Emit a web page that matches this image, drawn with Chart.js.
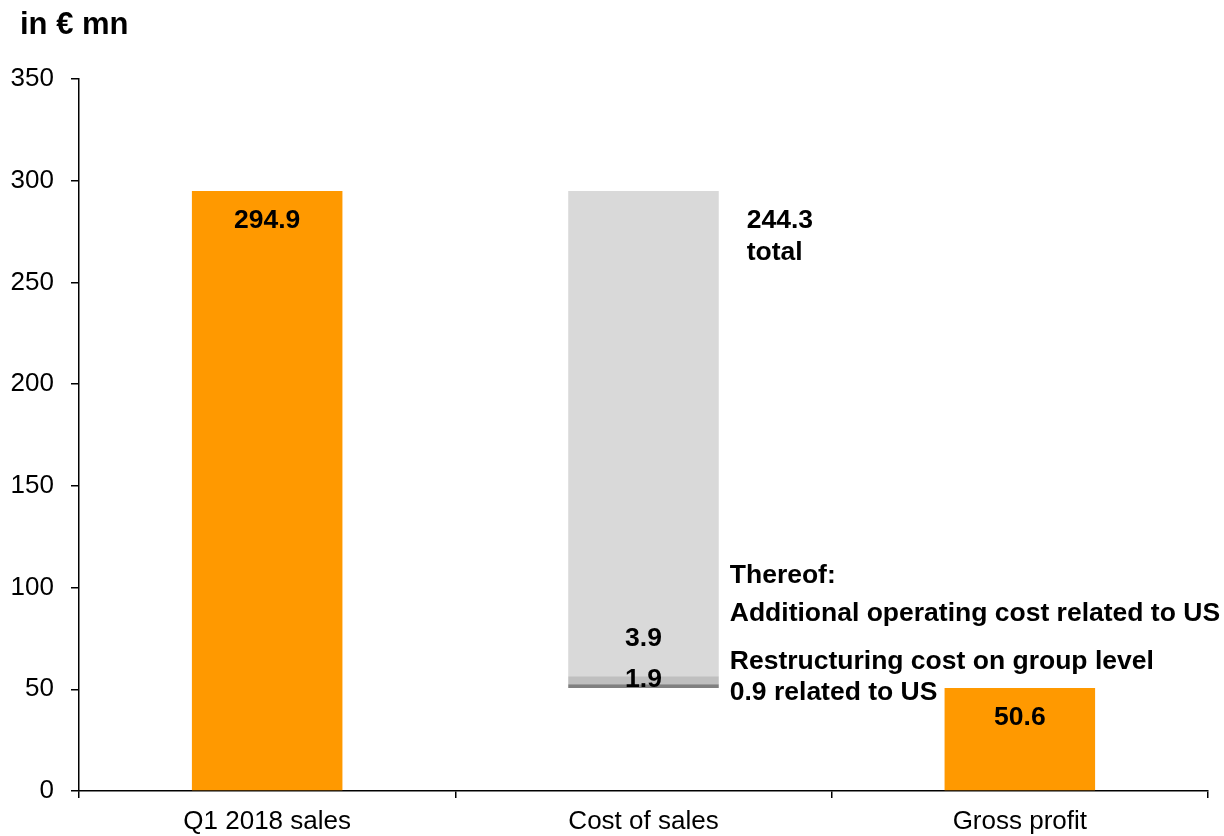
<!DOCTYPE html>
<html>
<head>
<meta charset="utf-8">
<script src="https://cdn.jsdelivr.net/npm/chart.js@4"></script>
<style>
  html, body { margin: 0; padding: 0; background: #fff; }
  #wrap { width: 1224px; height: 836px; position: relative; }
</style>
</head>
<body>
<div id="wrap"><canvas id="bridge"></canvas></div>
<script>
const categories = ['Q1 2018 sales', 'Cost of sales', 'Gross profit'];
const salesValues = [294.9, null, 50.6];
const costTotal = 244.3;
const restructuringCost = 1.9;
const additionalUsCost = 3.9;
const yTicks = [0, 50, 100, 150, 200, 250, 300, 350];

const FONT = "'Liberation Sans', Arial, sans-serif";
const ORANGE = '#FF9900';

// cost of sales bar floats between gross profit and sales, split into parts from the bottom up
const base = salesValues[2];
const restTop = base + restructuringCost;
const addTop = restTop + additionalUsCost;
const costTop = base + costTotal;

const labelsPlugin = {
    id: 'labels',
    afterDraw(chart) {
        const ctx = chart.ctx;
        const y = chart.scales.y;
        const bars = chart.getDatasetMeta(0).data;
        const cost = chart.getDatasetMeta(3).data[1];
        ctx.save();
        ctx.fillStyle = '#000';
        ctx.textBaseline = 'middle';

        // unit label
        ctx.font = 'bold 31px ' + FONT;
        ctx.textAlign = 'left';
        ctx.fillText('in € mn', 20, 25);

        // values inside the orange bars
        ctx.font = 'bold 26.5px ' + FONT;
        ctx.textAlign = 'center';
        [0, 2].forEach(i => {
            ctx.fillText(salesValues[i].toFixed(1), bars[i].x, bars[i].y + 30);
        });

        // cost of sales parts
        const cx = cost.x;
        const basePx = y.getPixelForValue(base);
        ctx.fillText(additionalUsCost.toFixed(1), cx, basePx - 49);
        ctx.fillText(restructuringCost.toFixed(1), cx, basePx - 8);

        const right = cost.x + cost.width / 2;
        const topPx = y.getPixelForValue(costTop);
        ctx.textAlign = 'left';
        ctx.fillText(costTotal.toFixed(1), right + 28, topPx + 30);
        ctx.fillText('total', right + 28, topPx + 62);

        ctx.fillText('Thereof:', right + 11, basePx - 112);
        ctx.fillText('Additional operating cost related to US', right + 11, basePx - 74);
        ctx.fillText('Restructuring cost on group level', right + 11, basePx - 26);
        ctx.fillText('0.9 related to US', right + 11, basePx + 5);
        ctx.restore();
    }
};

new Chart(document.getElementById('bridge'), {
    type: 'bar',
    data: {
        labels: categories,
        datasets: [
            { data: salesValues, backgroundColor: ORANGE },
            { data: [null, [base, restTop], null], backgroundColor: '#808080' },
            { data: [null, [restTop, addTop], null], backgroundColor: '#BFBFBF' },
            { data: [null, [addTop, costTop], null], backgroundColor: '#D9D9D9' }
        ]
    },
    options: {
        responsive: true,
        maintainAspectRatio: false,
        animation: false,
        datasets: {
            bar: {
                grouped: false,
                barPercentage: 0.4,
                categoryPercentage: 1.0,
                borderWidth: 0
            }
        },
        layout: {
            padding: { top: 79, right: 16, bottom: 0, left: 0 }
        },
        plugins: {
            legend: { display: false },
            tooltip: { enabled: false }
        },
        scales: {
            x: {
                offset: true,
                grid: {
                    offset: true,
                    drawOnChartArea: false,
                    color: '#000',
                    lineWidth: 1.5,
                    tickLength: 7
                },
                border: { color: '#000', width: 1.5 },
                ticks: {
                    color: '#000',
                    padding: 8,
                    font: { family: FONT, size: 26 }
                },
                afterFit(scale) { scale.height = 45; }
            },
            y: {
                min: 0,
                max: 350,
                afterBuildTicks(scale) {
                    scale.ticks = yTicks.map(v => ({ value: v }));
                },
                grid: {
                    drawOnChartArea: false,
                    color: '#000',
                    lineWidth: 1.5,
                    tickLength: 8
                },
                border: { color: '#000', width: 1.5 },
                ticks: {
                    color: '#000',
                    padding: 17,
                    font: { family: FONT, size: 26 }
                },
                afterFit(scale) { scale.width = 79; }
            }
        }
    },
    plugins: [labelsPlugin]
});
</script>
</body>
</html>
